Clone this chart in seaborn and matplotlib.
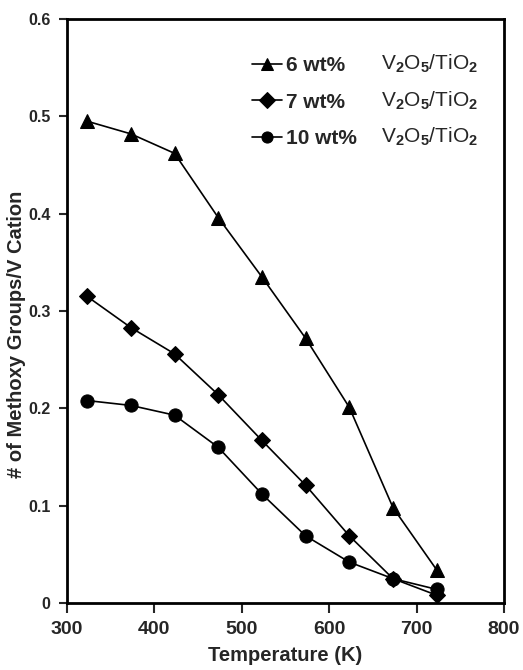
import matplotlib
matplotlib.use("Agg")
import matplotlib.pyplot as plt
import seaborn as sns
import pandas as pd

temps = [323, 373, 423, 473, 523, 573, 623, 673, 723]
v6 = [0.495, 0.482, 0.462, 0.396, 0.335, 0.272, 0.201, 0.098, 0.034]
v7 = [0.315, 0.283, 0.256, 0.214, 0.167, 0.121, 0.069, 0.025, 0.008]
v10 = [0.208, 0.203, 0.193, 0.160, 0.112, 0.069, 0.042, 0.025, 0.014]
series_names = ["6 wt%", "7 wt%", "10 wt%"]
xticks = [300, 400, 500, 600, 700, 800]
yticks = [0, 0.1, 0.2, 0.3, 0.4, 0.5, 0.6]
ytick_labels = ["0", "0.1", "0.2", "0.3", "0.4", "0.5", "0.6"]

sns.set_style("white")
plt.rcParams["font.family"] = ["Liberation Sans", "DejaVu Sans"]
plt.rcParams["font.weight"] = "bold"
plt.rcParams["mathtext.fontset"] = "custom"
plt.rcParams["mathtext.rm"] = "Liberation Sans"
plt.rcParams["mathtext.it"] = "Liberation Sans"
plt.rcParams["mathtext.bf"] = "Liberation Sans:bold"

df = pd.DataFrame({
    "T": temps * 3,
    "val": v6 + v7 + v10,
    "series": [series_names[0]] * 9 + [series_names[1]] * 9 + [series_names[2]] * 9,
})

fig = plt.figure(figsize=(5.23, 6.70), dpi=100)
ax = fig.add_axes([67 / 523, 1 - 603 / 670, (504 - 67) / 523, (603 - 19) / 670])

markers = {"6 wt%": "^", "7 wt%": "D", "10 wt%": "o"}
sizes = {"6 wt%": 10.5, "7 wt%": 8, "10 wt%": 9.5}
for name in series_names:
    sub = df[df["series"] == name]
    sns.lineplot(data=sub, x="T", y="val", ax=ax, color="black", lw=1.2,
                 marker=markers[name], markersize=sizes[name],
                 markeredgecolor="black", markerfacecolor="black",
                 label=name, legend=False)

ax.set_xlim(300, 800)
ax.set_ylim(0, 0.6)
ax.set_xticks(xticks)
ax.set_yticks(yticks)
ax.set_xticklabels([str(t) for t in xticks], fontsize=14, fontweight="bold")
ax.set_yticklabels(ytick_labels, fontsize=11.5, fontweight="bold")
ax.tick_params(axis="x", direction="out", length=7, width=1.5, bottom=True, top=False, pad=6)
ax.tick_params(axis="y", direction="out", length=6, width=1.5, left=True, right=False, pad=6)
for sp in ax.spines.values():
    sp.set_visible(True)
    sp.set_color("black")
    sp.set_linewidth(2)

ax.set_xlabel("Temperature (K)", fontsize=14.5, fontweight="bold", labelpad=6)
ax.set_ylabel("# of Methoxy Groups/V Cation", fontsize=14.5, fontweight="bold",
              va="center", ha="center")
ax.yaxis.set_label_coords(-0.115, 0.46)

leg = ax.legend(loc="upper left", bbox_to_anchor=(0.423, 0.937), frameon=False,
                fontsize=15, handlelength=1.45, handletextpad=0.2, labelspacing=0.85,
                borderaxespad=0, borderpad=0)
for h in leg.legend_handles:
    h.set_markersize(8)

row_y = [64, 101, 137]
for yy in row_y:
    fig.text(381 / 523, 1 - yy / 670, r"V$_2$O$_5$/TiO$_2$", fontsize=15,
             fontweight="normal", va="center", ha="left")

fig.savefig("out.png", dpi=100)
